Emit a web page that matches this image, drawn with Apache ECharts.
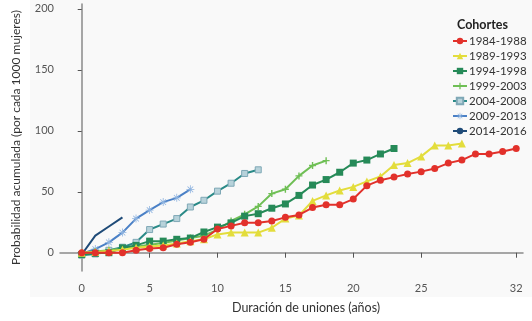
<!DOCTYPE html>
<html>
<head>
<meta charset="utf-8">
<script src="https://cdn.jsdelivr.net/npm/echarts@6/dist/echarts.min.js"></script>
<style>
  html, body { margin: 0; padding: 0; background: #ffffff; }
  #chart { width: 532px; height: 321px; }
</style>
</head>
<body>
<div id="chart"></div>
<script>
// datos (años desde el inicio de la unión)
const cohortNames = ['1984-1988', '1989-1993', '1994-1998', '1999-2003', '2004-2008', '2009-2013', '2014-2016']
const xTicks = [0, 5, 10, 15, 20, 25, 32]
const yTicks = [0, 50, 100, 150, 200]

const c1984 = [0, 0, 0, 0, 2, 3.5, 4, 7, 8.5, 11, 19.5, 22, 24.5, 24.5, 26, 29, 31, 37, 39.3, 39.3, 44, 55, 59.5, 62, 64.5, 66.5, 69, 73.5, 76, 81, 81, 83, 85.5]
const c1989 = [0, 0.5, 1.5, 2.5, 4, 5, 6, 7.5, 9.5, 11, 15, 16.5, 16.5, 16.5, 20.5, 28, 30.5, 42.5, 47, 51, 54, 58.5, 62.5, 72, 73.5, 79, 88, 88, 89.5]
const c1994 = [-1.5, -0.5, 0, 4, 6, 9.5, 9.5, 11, 12, 17, 21, 24.5, 30, 32, 36.5, 40, 47, 55.5, 60, 66, 73.5, 76, 81, 85.5]
const c1999 = [0, 1, 2, 3.5, 5, 6.5, 8, 10, 12, 14, 19, 26, 31.5, 38, 48.5, 52, 63, 71.5, 75.5]
const c2004 = [-2, -1, 2, 4.5, 8.5, 19, 23.5, 28, 37.5, 43, 50.5, 57, 65, 68]
const c2009 = [-1, 3, 8.5, 16.5, 28, 35, 41.5, 45, 52]
const c2014 = [-1.5, 14, 21.5, 29]

const toPairs = arr => arr.map((v, i) => [i, v])

const chart = echarts.init(document.getElementById('chart'))

const plusPath = 'path://M4,0h2v4h4v2h-4v4h-2v-4h-4v-2h4z'
const boxPath = 'path://M0,0H10V10H0Z'
const starPath = 'path://M4.5,0h1v3.8l2.7,-2.7l0.7,0.7l-2.7,2.7h3.8v1h-3.8l2.7,2.7l-0.7,0.7l-2.7,-2.7v3.8h-1v-3.8l-2.7,2.7l-0.7,-0.7l2.7,-2.7h-3.8v-1h3.8l-2.7,-2.7l0.7,-0.7l2.7,2.7z'

const styles = [
  { color: '#e2312b', symbol: 'circle', size: 7, data: c1984 },
  { color: '#e3dd3c', symbol: 'triangle', size: 8, data: c1989 },
  { color: '#268a58', symbol: 'rect', size: 7, data: c1994 },
  { color: '#6fbf55', symbol: plusPath, size: 7, data: c1999 },
  { color: '#2a8a87', symbol: boxPath, size: 6, data: c2004, fill: '#b7d2da', border: '#7fa8b6' },
  { color: '#4a80c6', symbol: starPath, size: 8, data: c2009, fill: '#8fb4e0' },
  { color: '#1f4b78', symbol: 'none', size: 0, data: c2014 }
]

const series = styles.map((s, i) => ({
  name: cohortNames[i],
  type: 'line',
  data: toPairs(s.data),
  symbol: s.symbol,
  symbolSize: s.size,
  showSymbol: s.symbol !== 'none',
  z: 10 - i,
  lineStyle: { color: s.color, width: 2 },
  itemStyle: {
    color: s.fill || s.color,
    borderColor: s.border || s.fill || s.color,
    borderWidth: s.border ? 1 : 0
  },
  emphasis: { disabled: true }
}))

const option = {
  animation: false,
  backgroundColor: '#ffffff',
  textStyle: { fontFamily: 'Lato, "Open Sans", sans-serif' },
  graphic: [
    { type: 'rect', z: -10, shape: { x: 30, y: 0, width: 502, height: 297 }, style: { fill: '#f9f9f9' } },
    {
      type: 'text', left: 232, top: 301,
      style: { text: 'Duración de uniones (años)', fontSize: 12.5, fill: '#333', fontFamily: 'Lato, sans-serif' }
    }
  ],
  title: {
    text: 'Cohortes',
    left: 452,
    top: 13,
    textStyle: { fontSize: 12.5, fontWeight: 'bold', color: '#222', fontFamily: 'Lato, sans-serif' }
  },
  legend: {
    orient: 'vertical',
    left: 447,
    top: 30,
    itemGap: 3,
    itemWidth: 14,
    itemHeight: 8,
    textStyle: { fontSize: 11.5, color: '#333', padding: [0, 0, 0, -3] },
    data: cohortNames
  },
  grid: { left: 60, right: 9, top: 4, bottom: 50 },
  xAxis: {
    type: 'value',
    min: -1.6,
    max: 32.5,
    axisLine: { show: true, lineStyle: { color: '#8a8a8a', width: 1.5 } },
    axisTick: { show: true, customValues: xTicks, length: 5, lineStyle: { color: '#555' } },
    axisLabel: { customValues: xTicks, color: '#555', fontSize: 11, margin: 12 },
    splitLine: { show: false }
  },
  yAxis: {
    type: 'value',
    min: -15,
    max: 204,
    name: 'Probabilidad acumulada (por cada 1000 mujeres)',
    nameLocation: 'middle',
    nameGap: 38,
    nameTextStyle: { fontSize: 12, color: '#333' },
    axisLine: { show: true, lineStyle: { color: '#8a8a8a', width: 1.5 } },
    axisTick: { show: true, customValues: yTicks, length: 4, lineStyle: { color: '#555' } },
    axisLabel: { customValues: yTicks, color: '#555', fontSize: 11, margin: 6 },
    splitLine: { show: false }
  },
  series: series
}

chart.setOption(option)
</script>
</body>
</html>
